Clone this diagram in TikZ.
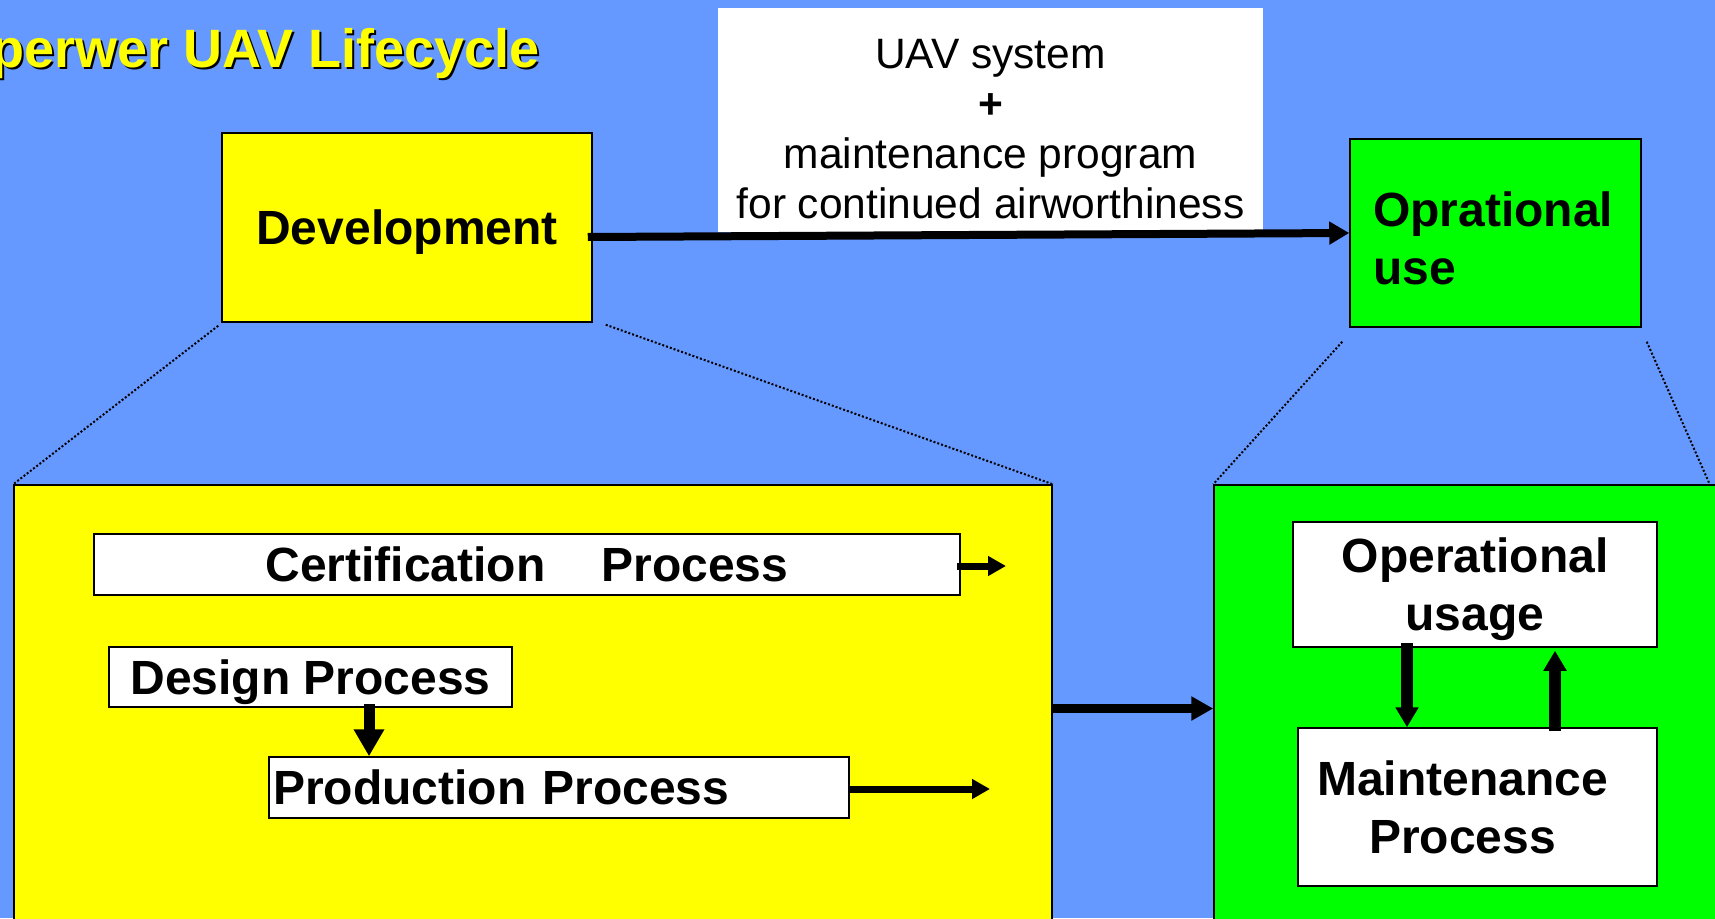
\documentclass[tikz,border=0pt]{standalone}
\usepackage{fontspec}
\setmainfont{Liberation Sans}
\usetikzlibrary{arrows.meta}
\definecolor{bgblue}{RGB}{102,153,255}
\definecolor{ylw}{RGB}{255,255,0}
\definecolor{grn}{RGB}{0,255,0}
\newcommand\mynodp[1]{\raisebox{0pt}[\height][0pt]{#1}}
\begin{document}
\begin{tikzpicture}[x=1pt,y=-1pt,
  box/.style={draw=black,line width=1.5pt,inner sep=0pt,font=\bfseries\fontsize{48}{58}\selectfont,align=center},
  oneline/.style={text height=34.4pt,text depth=0pt},
  wbox/.style={box,fill=white},
  titlefont/.style={font=\bfseries\fontsize{54}{62}\selectfont,inner sep=0pt,anchor=base east},
  arrtop/.style={line width=8pt,-{Triangle[length=20pt,width=22pt]}},
  arrbig/.style={line width=9pt,-{Triangle[length=22pt,width=23pt]}},
  arrsmall/.style={line width=7pt,-{Triangle[length=18pt,width=19pt]}},
  arrdp/.style={line width=11pt,-{Triangle[length=27pt,width=29pt]}},
  arrom/.style={line width=12pt,-{Triangle[length=20pt,width=22pt]}},
  dots/.style={line width=2pt,dash pattern=on 2pt off 2pt}
]
\useasboundingbox (0,0) rectangle (1715,918);
\clip (0,0) rectangle (1715,918);
\fill[bgblue] (0,0) rectangle (1715,918);

% title with shadow
\node[titlefont,text=black] (titleshadow) at (542,69.5) {Sperwer UAV Lifecycle};
\node[titlefont,text=ylw] (title) at (540,67.5) {Sperwer UAV Lifecycle};

% top boxes
\node[box,oneline,fill=ylw,minimum width=370pt,minimum height=189pt] (dev) at (407,227.5) {Development};
\node[box,fill=grn,minimum width=291pt,minimum height=188pt,text width=245pt,align=left] (ou) at (1495.5,233) {\rule{0pt}{46pt}Oprational\\use};

% label
\node[fill=white,minimum width=545pt,minimum height=224pt,inner sep=0pt] (lbl) at (990.5,120) {};
\node[font=\fontsize{42.5}{50}\selectfont,align=center,inner sep=0pt,anchor=north] (lbltxt) at (990.5,39)
  {UAV system\\\textbf{+}\\maintenance program\\for continued airworthiness};

% big boxes
\node[box,fill=ylw,minimum width=1038pt,minimum height=447pt] (bigY) at (533,708.5) {};
\node[box,fill=grn,minimum width=546pt,minimum height=447pt] (bigG) at (1487,708.5) {};
\coordinate (gtr) at (1710,485);

% dotted zoom lines
\draw[dots] ([xshift=-3pt,yshift=-3pt]dev.south west) -- (bigY.north west);
\draw[dots] ([xshift=13pt,yshift=-2pt]dev.south east) -- (bigY.north east);
\draw[dots] ([xshift=-7pt,yshift=-14pt]ou.south west) -- (bigG.north west);
\draw[dots] ([xshift=5pt,yshift=-14pt]ou.south east) -- (gtr);

% inner boxes
\node[wbox,oneline,minimum width=866pt,minimum height=61pt] (cert) at (527,564.5) {Certification\hspace{56pt}Process};
\node[wbox,oneline,minimum width=403pt,minimum height=60pt] (design) at (310.5,677) {Design Process};
\node[wbox,oneline,minimum width=580pt,minimum height=61pt,text width=572pt,align=left] (prod) at (559,787.5) {Production Process};
\node[wbox,minimum width=364pt,minimum height=125pt] (ousage) at (1475,584.5) {Operational\\\mynodp{usage}};
\node[wbox,minimum width=359pt,minimum height=158pt] (maint) at (1477.5,807) {Maintenance\kern30pt\\Process\kern30pt};

% arrows
\draw[arrtop] ([xshift=-5pt,yshift=-9.5pt]dev.east) -- (ou.west);
\draw[arrbig] (bigY.east) -- (bigG.west);
\coordinate (certend) at (1006,566);
\draw[arrsmall] ([xshift=-4pt]cert.east |- certend) -- (certend);
\coordinate (prodend) at (990,789);
\draw[arrsmall] (prod.east |- prodend) -- (prodend);
\draw[arrdp] ([xshift=58.5pt,yshift=4pt]design.south) -- ([xshift=-190pt]prod.north);
\draw[arrom] ([xshift=-68pt,yshift=5pt]ousage.south) -- ([xshift=-70.5pt]maint.north);
\draw[arrom] ([xshift=77.5pt,yshift=-4pt]maint.north) -- ([xshift=80pt,yshift=-3pt]ousage.south);
\end{tikzpicture}
\end{document}
